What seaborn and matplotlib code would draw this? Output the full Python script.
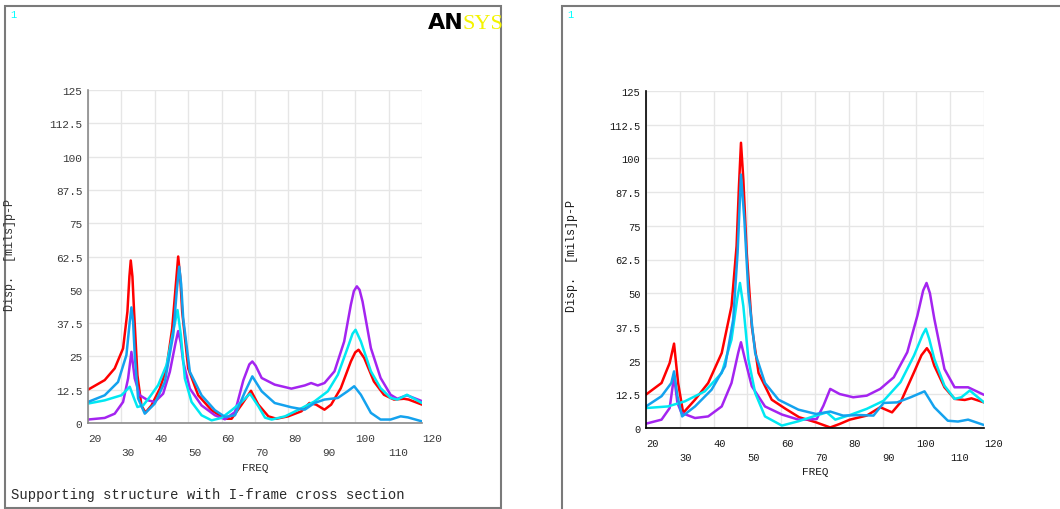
import matplotlib
matplotlib.use("Agg")
import matplotlib.pyplot as plt
from matplotlib.patches import Rectangle
import seaborn as sns

# ---- data ----
# left panel: supporting structure with I-frame cross section
left_red_f = [20, 25, 28, 30.5, 31.8, 32.4, 32.8, 33.3, 33.8, 34.8, 36, 37.2, 39, 41.5, 43.5, 45.2, 46.3, 47,
              47.6, 48.2, 50, 53, 57, 61, 63, 66, 68.8, 71, 74, 76.4, 79.9, 83.9, 86.3, 88.3, 90.8, 92.8, 95.7,
              98.7, 100, 101, 102.7, 105.6, 108.6, 111.6, 114.6, 116, 120]
left_red_v = [12.5, 16.1, 20.5, 28, 41.8, 55, 61, 55, 41.8, 17.9, 6.6, 3.9, 6.6, 12.9, 20.5, 35.5, 52, 62.5,
              55, 41.8, 20.5, 10.4, 4.8, 1.6, 1.6, 6.9, 12.1, 6.9, 2.5, 1.6, 2.5, 4.4, 7.5, 6.9, 5.0, 6.9, 13.1,
              23.1, 26.5, 27.5, 24.4, 15.6, 10.6, 8.8, 9.1, 8.8, 6.9]

left_blue_f = [20, 25, 29, 31.5, 32.5, 33, 33.5, 34, 35, 37, 40, 43, 45.5, 46.6, 47.3, 47.9, 48.5, 50.5, 54, 58,
               61, 64, 67, 69.2, 72, 75.9, 80.9, 84.9, 87.8, 90.8, 94.8, 97.7, 99.7, 101.7, 104.7, 107.6, 110.6,
               113.6, 115.8, 120]
left_blue_v = [7.9, 10.4, 15.4, 25.5, 38, 43.4, 38, 25.5, 9.2, 3.5, 7.3, 15.4, 33, 50, 58.7, 52, 39.3, 19.2,
               10.4, 4.8, 2.3, 2.9, 11.7, 17.5, 11.9, 7.5, 5.9, 5.0, 7.5, 8.8, 9.4, 11.9, 13.8, 10.6, 3.8, 1.3,
               1.3, 2.5, 2.1, 0.6]

left_cyan_f = [20, 25, 30, 32.5, 33.8, 34.8, 36.5, 38.5, 41, 43.5, 45.5, 46.8, 47.8, 49, 51, 54, 57, 60, 63, 66,
               68.5, 71, 73, 75, 79, 84, 87.8, 91.8, 94.8, 97.7, 99.2, 100.1, 101.7, 104.7, 107.6, 110.6, 112.6,
               115.5, 120]
left_cyan_v = [7.3, 8.5, 10.4, 13.6, 9.2, 6.0, 6.6, 9.8, 14.2, 21.7, 34.3, 42.4, 33.0, 16.7, 7.9, 2.9, 1.0, 1.9,
               4.8, 7.9, 11.0, 6.3, 2.0, 1.3, 2.5, 5.6, 8.1, 11.9, 18.1, 28.1, 33.5, 35.0, 30.6, 19.4, 13.1, 9.4,
               8.8, 10.6, 7.5]

left_purple_f = [20, 25, 28, 30.5, 32, 33, 34, 35.5, 38, 40, 42.5, 44.5, 46.2, 47, 47.8, 48.5, 50.5, 54, 58, 61,
                 64, 66.5, 68.3, 69.2, 70.2, 72, 75.9, 80.9, 84.9, 86.8, 88.8, 90.8, 93.8, 96.7, 98.7, 99.6, 100.5,
                 101.3, 102.2, 104.7, 107.6, 110.6, 112.6, 115.5, 120]
left_purple_v = [1.3, 1.9, 3.5, 7.9, 16.7, 26.7, 16.7, 10.4, 8.5, 7.9, 11, 19.2, 30, 34.5, 30, 23, 12.9, 6.6,
                 2.9, 1.4, 4.1, 16, 22, 23.1, 21.5, 16.9, 14.4, 12.9, 14.1, 15, 14.1, 15, 19.4, 30.6, 44.4, 49.5,
                 51.3, 50, 45.6, 28.1, 16.9, 10.6, 9.1, 10.4, 8.2]

# right panel
right_red_f = [20, 24.6, 27.0, 28.3, 29.5, 31.0, 34.5, 38.4, 42.4, 45.3, 46.8, 47.5, 48.1, 48.8, 49.8, 51.3, 53.3,
               57.2, 61.3, 65.3, 70.3, 74.5, 77.3, 80.3, 85.3, 89.3, 92.8, 95.3, 99.3, 101.5, 103.1, 104.2, 105.3,
               108.3, 111.3, 114.3, 116.3, 120]
right_red_v = [12.4, 16.7, 24.1, 31.3, 16.7, 5.6, 10.5, 16.7, 27.8, 45.2, 67.5, 89.7, 105.8, 92.2, 65.0, 37.7,
               20.4, 10.5, 7.1, 4.0, 2.1, 0.2, 1.5, 3.1, 4.6, 7.7, 5.8, 9.5, 20.7, 27.0, 29.6, 27.5, 23.1, 15.1,
               10.8, 10.4, 11.0, 9.5]

right_blue_f = [20, 24.6, 27.5, 28.3, 29.3, 30.7, 34.5, 39.4, 43.4, 45.8, 47.1, 48.1, 49.1, 50.3, 52.3, 55.2,
                59.2, 65.1, 70.3, 74.5, 78.3, 83.3, 87.3, 90.3, 94.3, 98.3, 102.4, 105.3, 109.3, 112.3, 115.3, 120]
right_blue_v = [8.0, 11.8, 16.7, 21.0, 11.8, 4.3, 8.0, 14.2, 22.9, 40.2, 65.0, 94.0, 77.4, 50.1, 27.8, 16.7,
                10.5, 6.8, 5.2, 6.1, 4.6, 4.8, 4.6, 9.3, 9.5, 11.4, 13.6, 7.7, 2.7, 2.4, 3.1, 1.1]

right_cyan_f = [20, 26.5, 31.5, 37.4, 42.4, 45.3, 47.0, 47.8, 48.8, 50.3, 52.3, 55.2, 60.2, 65.1, 70.3, 73.5, 76.0,
                80.3, 85.3, 90.3, 95.3, 99.3, 101.8, 102.8, 103.8, 105.3, 108.3, 111.3, 113.3, 115.8, 120]
right_cyan_v = [7.4, 8.0, 9.9, 13.6, 20.4, 32.8, 48, 53.8, 45.2, 25.4, 13.0, 4.3, 0.9, 2.5, 4.6, 5.8, 3.1, 4.8,
                7.1, 10.1, 17.0, 26.9, 34.5, 36.8, 33, 25.6, 15.7, 10.8, 11.4, 13.9, 9.5]

right_purple_f = [20, 24.6, 27.0, 28.3, 29.3, 30.5, 34.5, 38.4, 42.4, 45.3, 47.3, 48.1, 49.3, 51.3, 55.2, 60.2,
                  65.1, 70.5, 72.5, 74.5, 77.3, 81.3, 85.3, 89.3, 93.3, 97.3, 100.3, 102.0, 103.0, 104.0, 105.3,
                  108.3, 111.3, 115.3, 120]
right_purple_v = [1.6, 3.1, 7.4, 19.2, 9.3, 5.6, 3.7, 4.3, 8.0, 16.7, 28, 31.8, 25.4, 15.5, 8.0, 5.0, 3.1, 3.3,
                  8.3, 14.5, 12.6, 11.4, 12.0, 14.5, 18.8, 28.1, 41.7, 51, 53.8, 50, 40.5, 21.9, 15.1, 15.1, 12.3]

freq_major = [20, 40, 60, 80, 100, 120]
freq_minor = [30, 50, 70, 90, 110]
disp_ticks = [0, 12.5, 25, 37.5, 50, 62.5, 75, 87.5, 100, 112.5, 125]

colors = {"red": "#ff0000", "purple": "#a424f0", "cyan": "#00e8f2", "blue": "#14a2ee"}

sns.set_style("whitegrid")
plt.rcParams['font.family'] = ['Liberation Mono', 'DejaVu Sans Mono']

W, H = 1060, 510
fig = plt.figure(figsize=(W / 100, H / 100), dpi=100)


def px(x, y):
    return x / W, 1 - y / H


def make_axes(left, top, right, bottom, series, spine_color, tick_color, fs):
    ax = fig.add_axes([left / W, 1 - bottom / H, (right - left) / W, (bottom - top) / H])
    for name, f, v in series:
        sns.lineplot(x=f, y=v, ax=ax, color=colors[name], lw=1.8, sort=False, estimator=None,
                     solid_joinstyle="round", solid_capstyle="round")
    ax.set_xlim(20, 120)
    ax.set_ylim(0, 125)
    ax.set_xticks(freq_major)
    ax.set_xticklabels([str(t) for t in freq_major])
    ax.set_xticks(freq_minor, minor=True)
    ax.set_xticklabels([str(t) for t in freq_minor], minor=True)
    ax.set_yticks(disp_ticks)
    ax.set_yticklabels([f"{t:g}" for t in disp_ticks])
    ax.grid(True, which="both", color="#e6e6e6", lw=1.0)
    ax.tick_params(axis="x", which="major", length=0, pad=7, labelsize=fs, colors=tick_color)
    ax.tick_params(axis="x", which="minor", length=0, pad=17, labelsize=fs, colors=tick_color)
    ax.tick_params(axis="y", length=0, pad=4, labelsize=fs, colors=tick_color)
    for lab in ax.get_xticklabels(which="both"):
        lab.set_horizontalalignment("left")
    for s in ["top", "right"]:
        ax.spines[s].set_visible(False)
    for s in ["left", "bottom"]:
        ax.spines[s].set_color(spine_color)
        ax.spines[s].set_linewidth(1.2)
    ax.set_xlabel("")
    ax.set_ylabel("")
    return ax


left_series = [("red", left_red_f, left_red_v), ("purple", left_purple_f, left_purple_v),
               ("cyan", left_cyan_f, left_cyan_v), ("blue", left_blue_f, left_blue_v)]
right_series = [("red", right_red_f, right_red_v), ("purple", right_purple_f, right_purple_v),
                ("cyan", right_cyan_f, right_cyan_v), ("blue", right_blue_f, right_blue_v)]

make_axes(88, 91, 422, 424, left_series, "#8a8a8a", "#3a3a3a", 8)
make_axes(646, 92, 984, 429, right_series, "#000000", "#1a1a1a", 7.5)

# window frames
fig.patches.append(Rectangle(px(5, 509), 496 / W, 502 / H, transform=fig.transFigure,
                             fill=False, ec="#7a7a7a", lw=1.5))
fig.patches.append(Rectangle(px(562, 515), 520 / W, 508 / H, transform=fig.transFigure,
                             fill=False, ec="#7a7a7a", lw=1.5))

# labels
fig.text(*px(255, 468), "FREQ", ha="center", va="center", fontsize=8, color="#2a2a2a")
fig.text(*px(815, 472), "FREQ", ha="center", va="center", fontsize=8, color="#1a1a1a")
fig.text(*px(10, 255), "Disp.  [mils]p-P", rotation=90, ha="center", va="center", fontsize=8.5, color="#333333")
fig.text(*px(572, 256), "Disp.  [mils]p-P", rotation=90, ha="center", va="center", fontsize=8.5, color="#1a1a1a")
fig.text(*px(11, 495), "Supporting structure with I-frame cross section", ha="left", va="center",
         fontsize=10, color="#2a2a2a")
fig.text(*px(13, 15), "1", ha="center", va="center", fontsize=7.5, color="#00ffff")
fig.text(*px(570, 15), "1", ha="center", va="center", fontsize=7.5, color="#00ffff")

# ANSYS logo
fig.text(*px(428, 29), "AN", ha="left", va="baseline", fontsize=16, fontweight="bold",
         family="DejaVu Sans", color="black")
fig.text(*px(463, 29), "SYS", ha="left", va="baseline", fontsize=16, family="Liberation Serif",
         color="#f4f400")

fig.savefig("out.png", dpi=100)
